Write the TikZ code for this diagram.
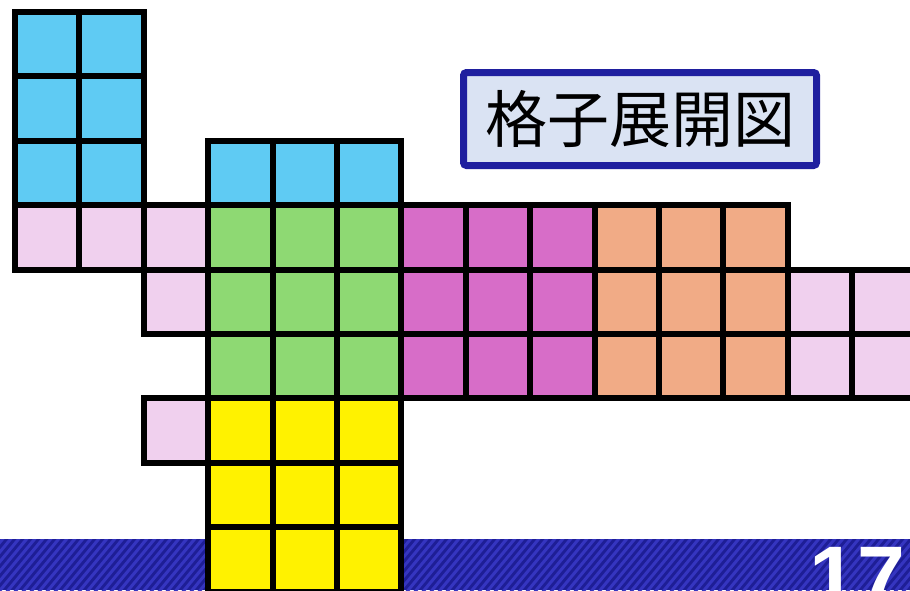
\documentclass[tikz,border=0pt]{standalone}
\usepackage{fontspec}
\newfontfamily\jpfont{Noto Sans CJK JP}
\newfontfamily\numfont{Liberation Sans}
\usetikzlibrary{positioning}
\definecolor{skyblue}{RGB}{95,203,243}
\definecolor{lightpink}{RGB}{240,208,238}
\definecolor{leafgreen}{RGB}{142,217,115}
\definecolor{orchid}{RGB}{215,109,200}
\definecolor{salmon}{RGB}{241,171,134}
\definecolor{titlefill}{RGB}{218,227,243}
\definecolor{titleline}{RGB}{31,31,159}
\definecolor{banddark}{RGB}{30,30,150}
\definecolor{bandlite}{RGB}{53,53,192}

\begin{document}
\begin{tikzpicture}[
    x=1pt, y=-1pt,
    cell/.style={draw=black, line width=6pt},
    sky/.style={cell, fill=skyblue}, pink/.style={cell, fill=lightpink},
    green/.style={cell, fill=leafgreen}, mag/.style={cell, fill=orchid},
    orng/.style={cell, fill=salmon}, yell/.style={cell, fill=yellow},
    titlebox/.style={draw=titleline, fill=titlefill, line width=7pt, rounded corners=3pt,
      minimum width=353pt, minimum height=93pt, inner sep=0pt}]
  \useasboundingbox (0,0) rectangle (910,590);
  % striped band at the foot
  \fill[banddark] (0,539) rectangle (910,590);
  \begin{scope}
    \clip (0,539) rectangle (910,590);
    \foreach \x in {-64,-56,...,920}
      \draw[bandlite, line width=3pt] (\x,600) -- ++(54,-65);
  \end{scope}
  % unfolded lattice, cell (i,j) = column i, row j
  \foreach \i/\j in {0/0,1/0,0/1,1/1,0/2,1/2,3/2,4/2,5/2}
    \filldraw[sky] ({15+64.4*\i},{12+64.4*\j}) rectangle ++(64.4,64.4);
  \foreach \i/\j in {0/3,1/3,2/3,2/4,2/6,12/4,13/4,12/5,13/5}
    \filldraw[pink] ({15+64.4*\i},{12+64.4*\j}) rectangle ++(64.4,64.4);
  \foreach \i in {3,4,5} \foreach \j in {3,4,5}
    \filldraw[green] ({15+64.4*\i},{12+64.4*\j}) rectangle ++(64.4,64.4);
  \foreach \i in {6,7,8} \foreach \j in {3,4,5}
    \filldraw[mag] ({15+64.4*\i},{12+64.4*\j}) rectangle ++(64.4,64.4);
  \foreach \i in {9,10,11} \foreach \j in {3,4,5}
    \filldraw[orng] ({15+64.4*\i},{12+64.4*\j}) rectangle ++(64.4,64.4);
  \foreach \i in {3,4,5} \foreach \j in {6,7,8}
    \filldraw[yell] ({15+64.4*\i},{12+64.4*\j}) rectangle ++(64.4,64.4);
  % title and page number
  \node[titlebox] (title) at (640,119) {\fontsize{62}{70}\selectfont\jpfont 格子展開図};
  \node[anchor=base west, inner sep=0pt, text=white] (pageno) at (809,606.6)
    {\fontsize{86}{90}\selectfont\numfont\bfseries 17};
\end{tikzpicture}
\end{document}
